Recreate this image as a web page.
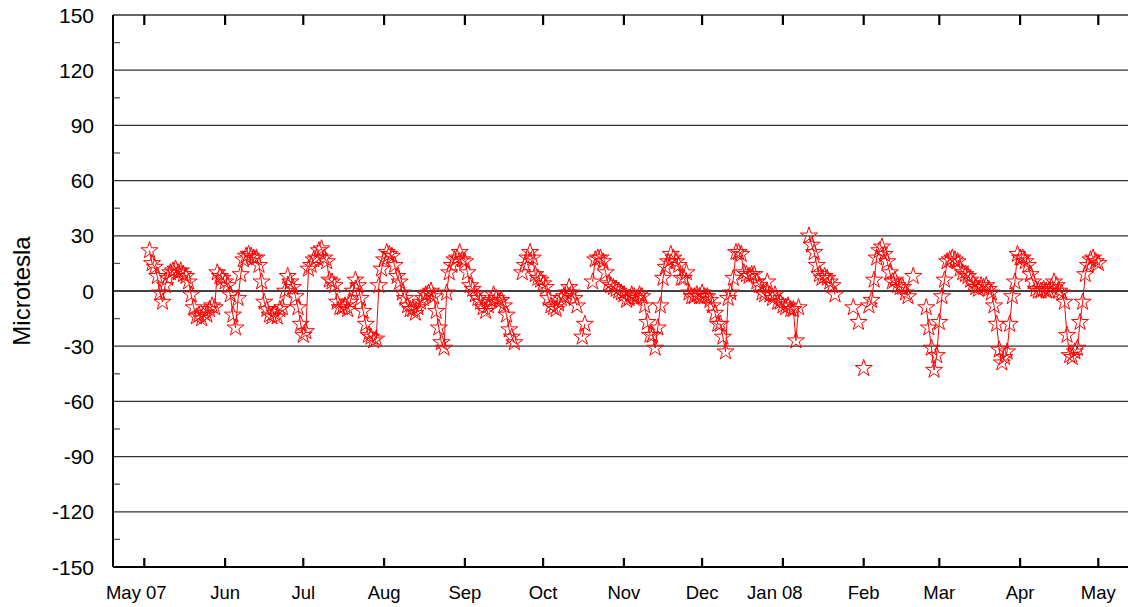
<!DOCTYPE html>
<html>
<head>
<meta charset="utf-8">
<script src="https://cdn.jsdelivr.net/npm/d3@7"></script>
<style>
  html, body { margin: 0; padding: 0; background: #fff; overflow: hidden; }
  svg { display: block; }
  text { font-family: "Liberation Sans", Arial, sans-serif; fill: #000; }
</style>
</head>
<body>
<div id="chart"></div>
<script>
// Data: one reading per day starting 2007-05-03, null = no reading
const startDate = "2007-05-03";
const fieldValues = [
  22, 15, 13, 8, -1, -6, 3, 7, 10,
  11, 12, 10, 11, 9, 8, 5, -2, -9, -14,
  -13, -15, -12, -13, -10, -8, -9, 10, 8, 7,
  5, 3, -2, -13, -20, -4, 9, 17, 19, 20,
  19, 18, 18, 14, 5, -6, -10, -13, -14, -12,
  -14, -10, -9, 0, 8, 5, 2, -3, -9, -18,
  -24, -22, 12, 14, 17, 18, 22, 23, 18, 16,
  6, 5, 3, -6, -9, -9, -8, -10, -6, 0,
  6, 3, -4, -11, -18, -24, -25, -27, -26, 3,
  12, 17, 21, 20, 19, 14, 8, 5, -1, -4,
  -8, -10, -10, -12, -9, -6, -4, -2, -1, 0,
  -3, -11, -20, -28, -31, -1, 10, 14, 17, 18,
  21, 17, 16, 10, 3, 1, -2, -4, -6, -9,
  -11, -8, -5, -2, -4, -6, -5, -8, -13, -21,
  -25, -28, null, null, 10, 14, 18, 21, 18, 9,
  7, 6, 4, 2, -4, -8, -9, -10, -7, -4,
  -3, -1, 2, -1, -4, -8, null, -25, -18, null,
  null, 5, 17, 18, 18, 16, 10, 4, 3, 2,
  1, 0, -1, -2, -5, -4, -2, -3, -4, -2,
  -3, -8, -17, -24, -24, -31, -20, -8, 7, 13,
  16, 20, 18, 16, 14, 7, 7, 10, -1, -3,
  -3, -2, -3, -1, -3, -3, -5, -8, -12, -18,
  -18, -25, -33, -4, -1, 7, 21, 21, 20, 10,
  9, 8, 9, 9, 5, 3, -1, -2, 5, -2,
  -4, -2, -6, -6, -8, -9, -8, -10, -10, -27,
  -9, null, null, null, 30, 25, 21, 14, 9, 7,
  8, 7, 5, 3, -2, null, null, null, null, null,
  null, -9, null, -17, null, -42, null, -8, -5, 6,
  18, 22, 24, 20, 16, 10, 5, 6, 3, 2,
  2, -1, -3, null, 8, null, null, null, null, -9,
  -20, -31, -43, -35, -17, -3, 6, 16, 17, 18,
  17, 16, 12, 10, 9, 8, 6, 4, 2, 1,
  3, 2, 3, 1, -1, -8, -18, -32, -39, -36,
  -33, -18, -3, 5, 20, 18, 18, 16, 14, 9,
  5, 1, 0, 0, 1, 0, 0, 2, 5, 3,
  0, -1, -6, -24, -35, -36, -33, -31, -17, -6,
  9, 14, 17, 18, 16, 15,
];

// Axis setup
const xDomain = ["2007-04-19", "2008-05-17"];
const tickDates = [
  "2007-05-01", "2007-06-01", "2007-07-01", "2007-08-01", "2007-09-01",
  "2007-10-01", "2007-11-01", "2007-12-01", "2008-01-01", "2008-02-01",
  "2008-03-01", "2008-04-01", "2008-05-01",
];
const tickLabels = [
  "May 07", "Jun", "Jul", "Aug", "Sep", "Oct", "Nov", "Dec",
  "Jan 08", "Feb", "Mar", "Apr", "May",
];
const yDomain = [-150, 150];
const yTicks = [150, 120, 90, 60, 30, 0, -30, -60, -90, -120, -150];
const yMinorTicks = [135, 105, 75, 45, 15, -15, -45, -75, -105, -135];
const yLabel = "Microtesla";

function draw() {
  const parseDate = d3.utcParse("%Y-%m-%d");
  const start = parseDate(startDate);

  const data = fieldValues.map((v, i) => ({
    date: d3.utcDay.offset(start, i),
    value: v,
  }));

  // Accessor Functions
  const xAccessor = (d) => d.date;
  const yAccessor = (d) => d.value;

  // Dimensions
  let dimensions = {
    width: 1128,
    height: 607,
    margins: { top: 15, left: 113 },
  };
  dimensions.ctrWidth = 1027;
  dimensions.ctrHeight = 552;

  const svg = d3
    .select("#chart")
    .append("svg")
    .attr("width", dimensions.width)
    .attr("height", dimensions.height);

  const ctr = svg
    .append("g")
    .attr(
      "transform",
      `translate(${dimensions.margins.left}, ${dimensions.margins.top})`
    );

  // Scales
  const xScale = d3
    .scaleUtc()
    .domain(xDomain.map(parseDate))
    .range([0, dimensions.ctrWidth]);

  const yScale = d3
    .scaleLinear()
    .domain(yDomain)
    .range([dimensions.ctrHeight, 0]);

  // Gridlines
  ctr
    .append("g")
    .selectAll("line")
    .data(yTicks)
    .join("line")
    .attr("x1", 0)
    .attr("x2", dimensions.ctrWidth)
    .attr("y1", (d) => yScale(d))
    .attr("y2", (d) => yScale(d))
    .attr("stroke", (d) => (d === 0 ? "#000" : "#333"))
    .attr("stroke-width", (d) => (d === 0 ? 1.6 : 1.3));

  // Minor ticks on the left
  ctr
    .append("g")
    .selectAll("line")
    .data(yMinorTicks)
    .join("line")
    .attr("x1", 0)
    .attr("x2", 7)
    .attr("y1", (d) => yScale(d))
    .attr("y2", (d) => yScale(d))
    .attr("stroke", "#555")
    .attr("stroke-width", 1.3);

  // Y tick labels
  ctr
    .append("g")
    .selectAll("text")
    .data(yTicks)
    .join("text")
    .attr("x", -19)
    .attr("y", (d) => yScale(d))
    .attr("dy", "0.36em")
    .attr("text-anchor", "end")
    .attr("font-size", 21)
    .text((d) => d);

  // Month ticks, bottom and top
  const months = tickDates.map(parseDate);
  ctr
    .append("g")
    .selectAll("line")
    .data(months)
    .join("line")
    .attr("x1", (d) => xScale(d))
    .attr("x2", (d) => xScale(d))
    .attr("y1", dimensions.ctrHeight - 9)
    .attr("y2", dimensions.ctrHeight)
    .attr("stroke", "#000")
    .attr("stroke-width", 2.2);

  ctr
    .append("g")
    .selectAll("line")
    .data(months)
    .join("line")
    .attr("x1", (d) => xScale(d))
    .attr("x2", (d) => xScale(d))
    .attr("y1", 0)
    .attr("y2", 10)
    .attr("stroke", "#000")
    .attr("stroke-width", 2.2);

  // X tick labels
  ctr
    .append("g")
    .selectAll("text")
    .data(months)
    .join("text")
    .attr("x", (d) => xScale(d))
    .attr("dx", (d, i) => (tickLabels[i].includes(" ") ? -8 : 0))
    .attr("y", dimensions.ctrHeight + 32)
    .attr("text-anchor", "middle")
    .attr("font-size", 18.5)
    .text((d, i) => tickLabels[i]);

  // Axis frame
  ctr
    .append("line")
    .attr("x1", 0)
    .attr("x2", 0)
    .attr("y1", 0)
    .attr("y2", dimensions.ctrHeight)
    .attr("stroke", "#000")
    .attr("stroke-width", 2);

  ctr
    .append("line")
    .attr("x1", 0)
    .attr("x2", dimensions.ctrWidth)
    .attr("y1", dimensions.ctrHeight)
    .attr("y2", dimensions.ctrHeight)
    .attr("stroke", "#000")
    .attr("stroke-width", 2);

  // Y label
  svg
    .append("text")
    .attr(
      "transform",
      `translate(30, ${dimensions.margins.top + yScale(0)}) rotate(-90)`
    )
    .attr("text-anchor", "middle")
    .attr("font-size", 24)
    .text(yLabel);

  // Line
  const line = d3
    .line()
    .defined((d) => yAccessor(d) !== null)
    .x((d) => xScale(xAccessor(d)))
    .y((d) => yScale(yAccessor(d)));

  ctr
    .append("path")
    .datum(data)
    .attr("d", line)
    .attr("fill", "none")
    .attr("stroke", "#ff0000")
    .attr("stroke-width", 1);

  // Star markers
  const star = d3.symbol(d3.symbolStar, 90);
  ctr
    .append("g")
    .selectAll("path")
    .data(data.filter((d) => yAccessor(d) !== null))
    .join("path")
    .attr("d", star)
    .attr(
      "transform",
      (d) => `translate(${xScale(xAccessor(d))}, ${yScale(yAccessor(d))})`
    )
    .attr("fill", "none")
    .attr("stroke", "#ff0000")
    .attr("stroke-width", 1);
}

draw();
</script>
</body>
</html>
